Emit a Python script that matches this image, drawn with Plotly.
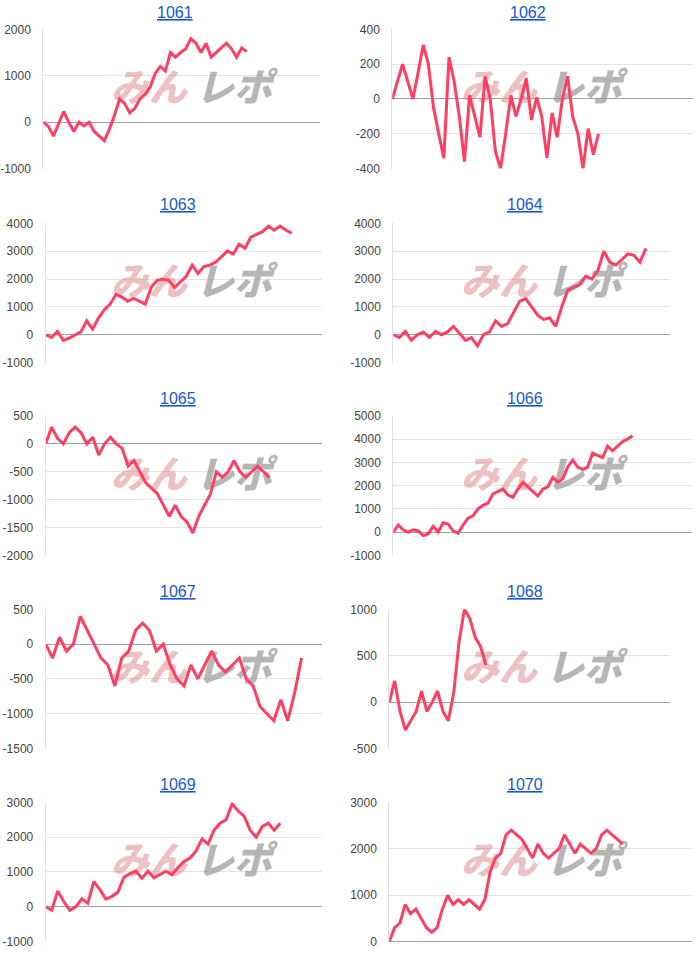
import plotly.graph_objects as go

# ---------------- data ----------------
titles = ["1061", "1062", "1063", "1064", "1065", "1066", "1067", "1068", "1069", "1070"]

v1061 = [0, -90, -300, -40, 230, 0, -200, 0, -80, 0, -200, -300, -400, -150, 150, 500, 400, 200, 300, 500,
         600, 750, 1050, 1200, 1100, 1500, 1400, 1500, 1580, 1800, 1700, 1500, 1700, 1400, 1500, 1580, 1700,
         1580, 1400, 1600, 1520]
v1062 = [0, 100, 200, 100, 0, 150, 310, 200, -50, -200, -340, 240, 100, -100, -360, 20, -100, -220, 130, 0,
         -300, -400, -200, 20, -100, 0, 120, -120, 10, -100, -340, -80, -220, 0, 130, -100, -200, -400, -170,
         -320, -200]
v1063 = [0, -100, 120, -200, -120, 0, 100, 500, 200, 600, 900, 1100, 1450, 1350, 1200, 1300, 1200, 1100, 1700,
         1950, 2000, 1950, 1700, 1900, 2100, 2500, 2200, 2450, 2500, 2600, 2800, 3000, 2900, 3250, 3100, 3500,
         3600, 3700, 3900, 3750, 3900, 3750, 3650]
v1064 = [0, -100, 120, -200, 0, 100, -100, 120, 0, 100, 300, 50, -200, -100, -400, 0, 100, 500, 300, 400, 800,
         1200, 1300, 1000, 700, 550, 600, 300, 1000, 1600, 1700, 1800, 2100, 2000, 2300, 3000, 2600, 2500, 2700,
         2900, 2850, 2600, 3100]
v1065 = [0, 300, 100, 0, 200, 300, 200, 0, 120, -200, 0, 120, 0, -80, -400, -300, -500, -700, -800, -900,
         -1100, -1300, -1100, -1300, -1400, -1600, -1300, -1100, -900, -500, -600, -500, -300, -500, -600, -500,
         -400, -500, -600]
v1066 = [0, 300, 100, 0, 100, 50, -150, -80, 250, 0, 400, 350, 50, -50, 300, 600, 700, 1000, 1150, 1250, 1650,
         1750, 1850, 1600, 1500, 1850, 2150, 1950, 1750, 1550, 1850, 1950, 2350, 2150, 2300, 2800, 3100, 2800,
         2700, 2800, 3400, 3300, 3200, 3700, 3500, 3700, 3900, 4000, 4150]
v1067 = [0, -200, 100, -100, 0, 400, 200, 0, -200, -300, -600, -200, -100, 200, 300, 200, -100, 0, -300, -500,
         -600, -300, -500, -300, -100, -300, -400, -300, -200, -500, -600, -900, -1000, -1100, -800, -1100, -700,
         -200]
v1068 = [0, 230, -100, -300, -200, -100, 120, -100, 0, 120, -100, -200, 100, 650, 1000, 900, 700, 600, 400]
v1069 = [0, -100, 450, 150, -100, 0, 230, 100, 720, 500, 220, 300, 420, 850, 950, 1020, 820, 1020, 830, 920,
         1020, 920, 1130, 1300, 1400, 1600, 1950, 1800, 2200, 2400, 2500, 2950, 2750, 2600, 2200, 2000, 2300,
         2400, 2200, 2400]
v1070 = [0, 300, 400, 800, 600, 700, 500, 300, 200, 300, 700, 1000, 800, 900, 800, 900, 800, 700, 900, 1500,
         1800, 1900, 2300, 2400, 2300, 2200, 2000, 1800, 2100, 1900, 1800, 1900, 2000, 2300, 2100, 1900, 2100,
         2000, 1900, 2000, 2300, 2400, 2300, 2200, 2100]

series = [v1061, v1062, v1063, v1064, v1065, v1066, v1067, v1068, v1069, v1070]
y_min = [-1000, -400, -1000, -1000, -2000, -1000, -1500, -500, -1000, 0]
y_max = [2000, 400, 4000, 4000, 500, 5000, 500, 1000, 3000, 3000]
y_step = [1000, 200, 1000, 1000, 500, 1000, 500, 500, 1000, 1000]
x_span = [54.4, 58.4, 47.2, 46.0, 47.0, 60.0, 40.0, 52.3, 46.0, 57.1]

# ---------------- layout geometry (pixels) ----------------
W, H = 700, 965
plot_left = [43.3, 392.3, 45.7, 393.3, 45.7, 393.3, 45.7, 389.3, 45.7, 389.3]
plot_right = [320, 693.3, 322.3, 670, 322.3, 692.3, 322.3, 670, 322.3, 692.3]
row_top = [29.3, 223.3, 416, 609.3, 802.3]
plot_h = 139.3
title_x = [175, 527.5, 178, 525, 178, 525, 178, 525, 178, 525]
title_y = [12, 205, 398, 591, 784]

LINE = "#ff3f62"
fig = go.Figure()
layout_axes = {}
annotations = []

for i, vals in enumerate(series):
    sfx = "" if i == 0 else str(i + 1)
    xa, ya = "x" + sfx, "y" + sfx
    x0, x1 = plot_left[i], plot_right[i]
    top = row_top[i // 2]
    bot = top + plot_h
    cell_x = 0 if i % 2 == 0 else 350
    lo, hi, span = y_min[i], y_max[i], x_span[i]

    def px2x(p):
        return (p - x0) / (x1 - x0) * span

    def py2y(p):
        return hi - (p - top) / (bot - top) * (hi - lo)

    # watermark (drawn beneath the line)
    wy = py2y(top + 62)
    fig.add_trace(go.Scatter(
        x=[px2x(cell_x + 149), px2x(cell_x + 234)], y=[wy, wy],
        mode="text", text=["みん", "レポ"],
        textfont=dict(family="Noto Sans CJK JP", size=38,
                      color=["rgba(222,140,140,0.55)", "rgba(150,150,150,0.7)"],
                      weight=900, style="italic"),
        hoverinfo="skip", showlegend=False, xaxis=xa, yaxis=ya))

    fig.add_trace(go.Scatter(
        x=list(range(len(vals))), y=vals, mode="lines",
        line=dict(color=LINE, width=3), showlegend=False,
        xaxis=xa, yaxis=ya, hoverinfo="y"))

    tickvals = list(range(lo, hi + 1, y_step[i]))
    layout_axes["xaxis" + sfx] = dict(
        domain=[x0 / W, x1 / W], range=[0, span], anchor=ya, automargin=False,
        showgrid=False, zeroline=False, showticklabels=False, showline=False, ticks="",
        fixedrange=True)
    layout_axes["yaxis" + sfx] = dict(
        domain=[1 - bot / H, 1 - top / H], range=[lo, hi], anchor=xa, automargin=False,
        tickmode="array", tickvals=tickvals, ticktext=[str(v) for v in tickvals],
        ticks="", showgrid=True, gridcolor="#e4e4e4", gridwidth=1,
        zeroline=True, zerolinecolor="#a0a0a0", zerolinewidth=1,
        showline=True, linecolor="#e0e0e0", linewidth=1,
        tickfont=dict(family="Liberation Sans, Arial, sans-serif", size=12, color="#444444"),
        ticklabelstandoff=9, fixedrange=True)

    annotations.append(dict(
        text="<u>" + titles[i] + "</u>", xref="paper", yref="paper",
        x=title_x[i] / W, y=1 - title_y[i // 2] / H, xanchor="center", yanchor="middle",
        showarrow=False,
        font=dict(family="Liberation Sans, Arial, sans-serif", size=16, color="#1558d0")))

fig.update_layout(
    template="none",
    width=W, height=H, margin=dict(l=0, r=0, t=0, b=0, pad=0, autoexpand=False),
    paper_bgcolor="white", plot_bgcolor="white",
    annotations=annotations, **layout_axes)

fig.write_html("out.html", config={"displayModeBar": False},
               post_script="document.body.style.margin='0';document.body.style.padding='0';")
